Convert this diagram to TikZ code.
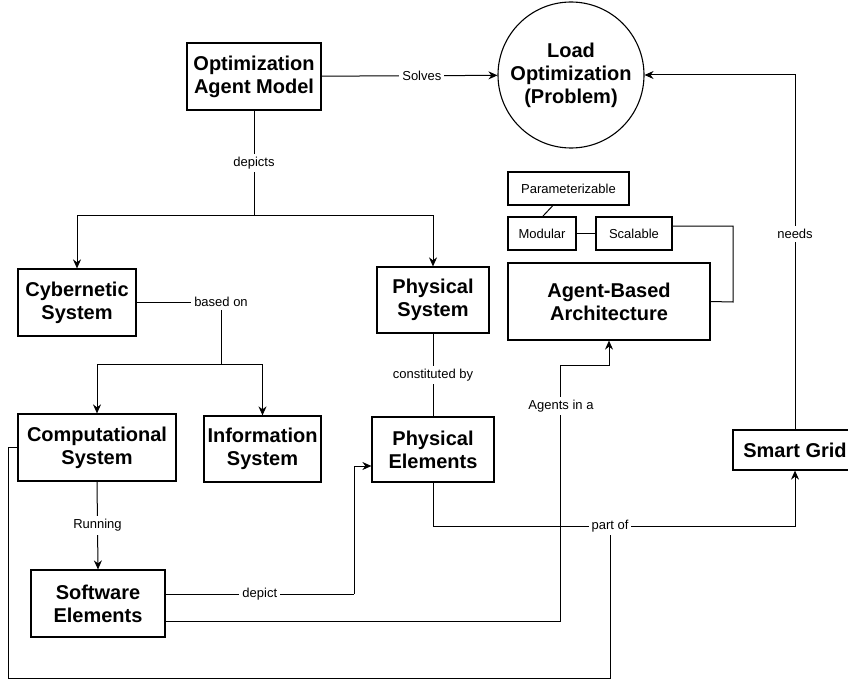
\documentclass[tikz,border=0pt]{standalone}
\usepackage{fontspec}
\setmainfont{Liberation Sans}
\usetikzlibrary{arrows.meta}
\tikzset{
  box/.style={draw, line width=1.2pt, align=center, inner sep=2pt,
    font=\fontsize{20}{23}\selectfont\bfseries},
  tag/.style={draw, line width=1.9pt, align=center, inner sep=1pt,
    font=\fontsize{13}{15}\selectfont},
  lbl/.style={fill=white, inner sep=3pt, font=\fontsize{13}{15}\selectfont},
  con/.style={line width=1pt},
  arr/.style={con, -{Stealth[length=9pt,width=8pt]}}
}
\begin{document}
\begin{tikzpicture}[x=1pt,y=-1pt]
\useasboundingbox (0,0) rectangle (848,682);
\clip (0,0) rectangle (848,682);
\fill[white] (0,0) rectangle (848,682);

% nodes
\node[box, minimum width=134pt, minimum height=67pt] (oam) at (254,76.5) {Optimization\\Agent Model};
\node[draw, circle, line width=1.1pt, minimum size=146pt, align=center, inner sep=0pt,
  font=\fontsize{20}{23}\selectfont\bfseries] (load) at (571,75) {Load\\Optimization\\(Problem)};
\node[box, minimum width=118pt, minimum height=67pt] (cyber) at (77,302.5) {Cybernetic\\System};
\node[box, minimum width=112pt, minimum height=66pt] (physys) at (433,300) {Physical\\System};
\node[box, minimum width=158pt, minimum height=67pt] (comp) at (97,447.5) {Computational\\System};
\node[box, minimum width=117pt, minimum height=66pt] (info) at (262.5,449) {Information\\System};
\node[box, minimum width=122pt, minimum height=65pt] (physel) at (433,449.5) {Physical\\Elements};
\node[box, minimum width=134pt, minimum height=67pt] (soft) at (98,603.5) {Software\\Elements};
\node[box, minimum width=124pt, minimum height=40pt] (smart) at (795,450) {Smart Grid};
\node[box, minimum width=202pt, minimum height=77pt] (aba) at (609,301.5) {Agent-Based\\Architecture};
\node[tag, minimum width=121pt, minimum height=33pt] (param) at (568.5,188.5) {Parameterizable};
\node[tag, minimum width=68pt, minimum height=33pt] (modular) at (542,233.5) {Modular};
\node[tag, minimum width=76pt, minimum height=33pt] (scal) at (634,233.5) {Scalable};

% helper coordinates
\coordinate (j1) at (254,215);
\coordinate (j2) at (221,364);
\coordinate (c1) at (354,594);
\coordinate (c2) at (560,365);
\coordinate (po) at (610,526);
\coordinate (c3) at (8,678);
\coordinate (c4) at (733,302);

% connectors
\draw[arr] (oam) -- node[lbl, pos=0.57] {Solves} (load);
\draw[con] (oam.south) -- node[lbl] {depicts} (j1);
\draw[arr] (j1) -| (cyber.north);
\draw[arr] (j1) -| (physys.north);

\draw[con] (cyber.east) -| (j2);
\draw[arr] (j2) -| (comp.north);
\draw[arr] (j2) -| (info.north);
\node[lbl] (lbased) at (221,302) {based on};

\draw[con] (physys.south) -- node[lbl] {constituted by} (physel.north);
\draw[arr] (comp.south) -- node[lbl] {Running} (soft.north);

\draw[con] ([yshift=9.5pt]soft.east) -- node[lbl] {depict} (c1);
\draw[arr] (c1) |- ([yshift=-16.5pt]physel.west);

\draw[con] ([yshift=-17.5pt]soft.east) -| (c2);
\draw[arr] (c2) -| (aba.south);
\node[lbl] (lagents) at (561,406) {Agents in a};

\draw[con] (physel.south) |- (po);
\draw[arr] (po) -| (smart.south);
\draw[con] (comp.west) -| (c3) -| (po);
\node[lbl] (lpart) at (po) {part of};

\draw[arr] (smart.north) |- (load);
\node[lbl] (lneeds) at (795,234) {needs};

\draw[con] ([xshift=-16pt]param.south) -- ([xshift=1pt]modular.north);
\draw[con] (modular.east) -- (scal.west);
\draw[con] ([yshift=7.5pt]scal.east) -| (c4) -- (aba.east);
\end{tikzpicture}
\end{document}
